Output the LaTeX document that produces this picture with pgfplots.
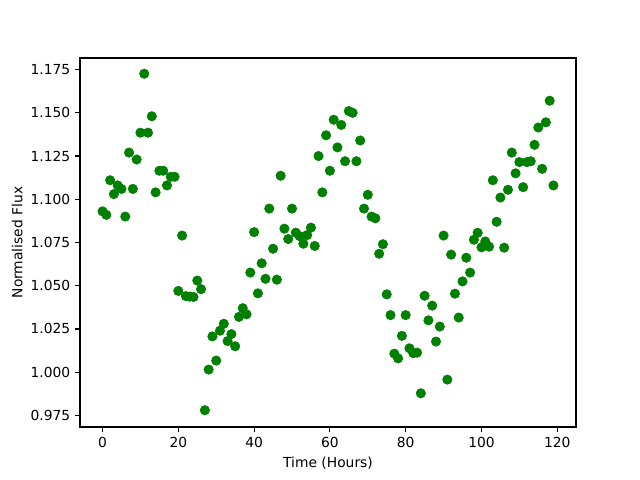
\documentclass[border=0pt]{standalone}
\usepackage{pgfplots}
\pgfplotsset{compat=1.18}
\usepackage{fontspec}
\setmainfont{DejaVu Sans}
\definecolor{mplgreen}{rgb}{0,0.5,0}
\begin{document}
\begin{tikzpicture}
\begin{axis}[
  scale only axis,
  width=4.96in, height=3.69in,
  xmin=-5.95, xmax=124.95,
  ymin=0.9683, ymax=1.1817,
  xtick={0,20,40,60,80,100,120},
  ytick={0.975,1.000,1.025,1.050,1.075,1.100,1.125,1.150,1.175},
  yticklabel style={/pgf/number format/.cd,fixed,fixed zerofill,precision=3},
  /pgf/number format/assume math mode=true,
  tick pos=left,
  tick align=outside,
  major tick length=3.5pt,
  tick style={black, line width=0.8pt},
  axis line style={line width=0.8pt},
  ticklabel style={font=\fontsize{10}{12}\selectfont},
  label style={font=\fontsize{10}{12}\selectfont},
  xlabel={Time (Hours)},
  ylabel={Normalised Flux},
  xlabel style={yshift=0pt},
  ylabel style={yshift=-1pt},
]
\addplot[only marks, mark=*, mark size=3.4bp, color=mplgreen, mark options={draw=mplgreen, fill=mplgreen}] coordinates {
(0,1.093) (1,1.091) (2,1.111) (3,1.103) (4,1.108) (5,1.106) (6,1.090) (7,1.127) (8,1.106) (9,1.123)
(10,1.1385) (11,1.1726) (12,1.1385) (13,1.148) (14,1.104) (15,1.1165) (16,1.1165) (17,1.108) (18,1.113) (19,1.113)
(20,1.047) (21,1.079) (22,1.044) (23,1.0437) (24,1.0435) (25,1.053) (26,1.048) (27,0.978) (28,1.0015) (29,1.0207)
(30,1.0067) (31,1.024) (32,1.028) (33,1.018) (34,1.022) (35,1.015) (36,1.032) (37,1.037) (38,1.0335) (39,1.0576)
(40,1.081) (41,1.0456) (42,1.063) (43,1.054) (44,1.0946) (45,1.0714) (46,1.0535) (47,1.1136) (48,1.083) (49,1.077)
(50,1.0946) (51,1.0807) (52,1.0787) (53,1.0743) (54,1.0793) (55,1.0836) (56,1.073) (57,1.125) (58,1.104) (59,1.137)
(60,1.1165) (61,1.146) (62,1.130) (63,1.143) (64,1.122) (65,1.151) (66,1.150) (67,1.122) (68,1.134) (69,1.0946)
(70,1.1026) (71,1.090) (72,1.089) (73,1.0685) (74,1.074) (75,1.045) (76,1.033) (77,1.0107) (78,1.008) (79,1.021)
(80,1.033) (81,1.0138) (82,1.011) (83,1.0113) (84,0.9878) (85,1.0442) (86,1.030) (87,1.0385) (88,1.0177) (89,1.0264)
(90,1.079) (91,0.9957) (92,1.068) (93,1.0454) (94,1.0316) (95,1.0525) (96,1.0662) (97,1.0576) (98,1.0766) (99,1.0806)
(100,1.0722) (101,1.0756) (102,1.0726) (103,1.111) (104,1.087) (105,1.101) (106,1.072) (107,1.1055) (108,1.127) (109,1.115)
(110,1.1215) (111,1.107) (112,1.1215) (113,1.122) (114,1.1315) (115,1.1415) (116,1.1176) (117,1.1445) (118,1.157) (119,1.108)
};
\end{axis}
\path ([xshift=-0.8in,yshift=-0.53in]current axis.south west) rectangle ([xshift=0.64in,yshift=0.58in]current axis.north east);
\end{tikzpicture}
\end{document}
